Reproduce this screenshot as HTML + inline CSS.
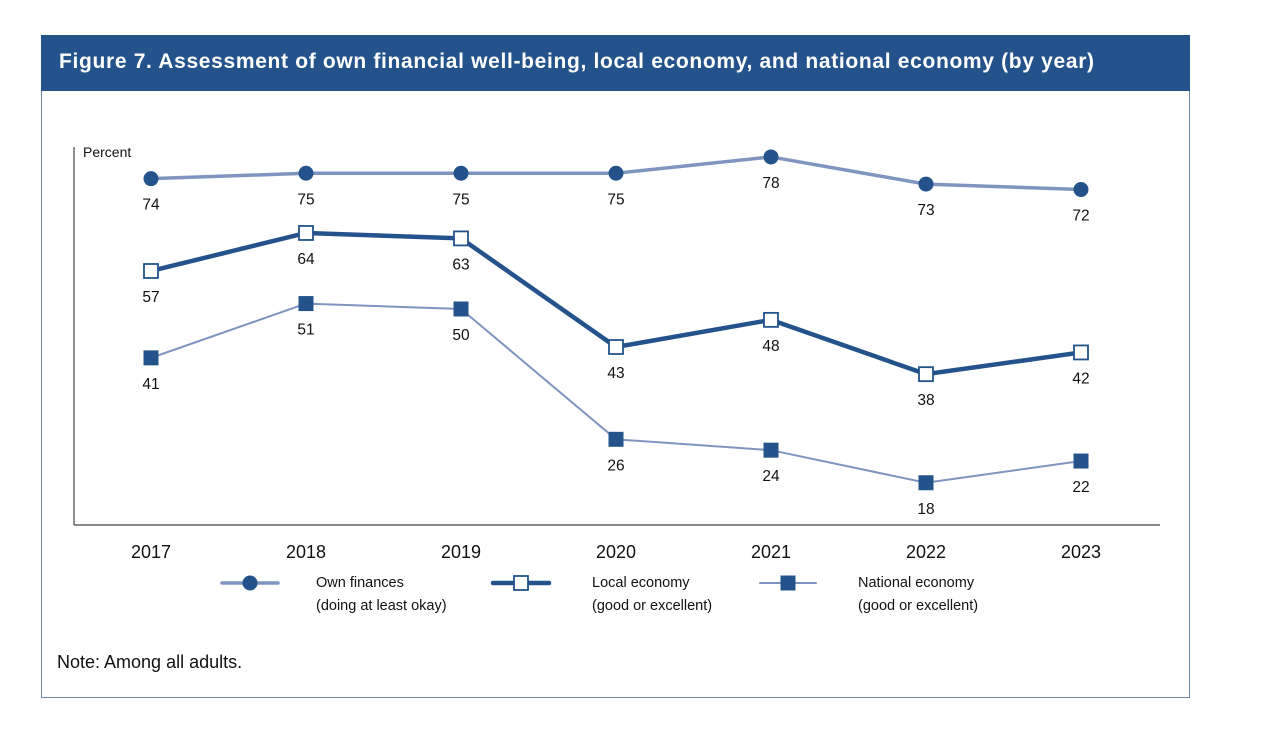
<!DOCTYPE html>
<html><head><meta charset="utf-8"><style>
html,body{margin:0;padding:0;background:#fff;}
body{width:1272px;height:736px;position:relative;overflow:hidden;font-family:"Liberation Sans",Arial,sans-serif;}
#frame{position:absolute;left:41px;top:35px;width:1147px;height:662px;border:1px solid #6d87ad;border-top:none;}
#header{position:absolute;left:41px;top:35px;width:1149px;height:56px;background:#23538a;}
#title{position:absolute;left:18px;top:15px;color:#fff;font-weight:bold;font-size:21px;letter-spacing:0.67px;white-space:nowrap;}
#note{position:absolute;left:57px;top:652px;font-size:18px;color:#111;}
svg{position:absolute;left:0;top:0;}
</style></head><body>
<div id="frame"></div>
<div id="header"><div id="title">Figure 7. Assessment of own financial well-being, local economy, and national economy (by year)</div></div>
<svg id="chart" width="1272" height="736"></svg>
<div id="note">Note: Among all adults.</div>
<script>
const years = ["2017","2018","2019","2020","2021","2022","2023"];
const ownFinances = [74,75,75,75,78,73,72];
const localEconomy = [57,64,63,43,48,38,42];
const nationalEconomy = [41,51,50,26,24,18,22];

const NS="http://www.w3.org/2000/svg";
const svg=document.getElementById('chart');
function xs(i){return 151+i*155;}
function ys(v){return 580.5-5.43*v;}
function mk(tag,attrs,parent){const e=document.createElementNS(NS,tag);for(const k in attrs)e.setAttribute(k,attrs[k]);(parent||svg).appendChild(e);return e;}
function txt(x,y,s,size,anchor){const t=mk('text',{x:x,y:y,'font-size':size,'text-anchor':anchor||'middle',fill:'#111','font-family':'"Liberation Sans",Arial,sans-serif'});t.textContent=s;return t;}

let a=mk('line',{x1:74,y1:147,x2:74,y2:525,stroke:'#444','stroke-width':1.2});


a=mk('line',{x1:74,y1:525,x2:1160,y2:525,stroke:'#444','stroke-width':1.2});


let yt=txt(83,157,'Percent',14,'start');


years.forEach((y,i)=>{const t=txt(xs(i),558,y,18);

});

const series=[
 {name:'own-finances',vals:ownFinances,color:'#7f95bf',w:3.5,marker:'circle'},
 {name:'local-economy',vals:localEconomy,color:'#23538a',w:4.5,marker:'open'},
 {name:'national-economy',vals:nationalEconomy,color:'#7f95bf',w:2,marker:'square'}
];
series.forEach(s=>{
 const pts=s.vals.map((v,i)=>xs(i)+','+ys(v)).join(' ');
 const pl=mk('polyline',{points:pts,fill:'none',stroke:s.color,'stroke-width':s.w,'stroke-linejoin':'round'});
 
 
 s.vals.forEach((v,i)=>{
  let m;
  const x=xs(i),y=ys(v);
  if(s.marker==='circle') m=mk('circle',{cx:x,cy:y,r:7.5,fill:'#23538a'});
  else if(s.marker==='open') m=mk('rect',{x:x-7,y:y-7,width:14,height:14,fill:'#fff',stroke:'#23538a','stroke-width':1.8});
  else m=mk('rect',{x:x-7.5,y:y-7.5,width:15,height:15,fill:'#23538a'});
  
  
  const l=txt(x,y+31,String(v),15.5);
  
  
 });
});

const leg=[
 {x:222,color:'#7f95bf',w:3.5,marker:'circle',l1:'Own finances',l2:'(doing at least okay)'},
 {x:493,color:'#23538a',w:4.5,marker:'open',l1:'Local economy',l2:'(good or excellent)'},
 {x:760,color:'#7f95bf',w:2,marker:'square',l1:'National economy',l2:'(good or excellent)'}
];
leg.forEach((g,k)=>{
 const grp=mk('g',{});
 
 
 mk('line',{x1:g.x,y1:583,x2:g.x+56,y2:583,stroke:g.color,'stroke-width':g.w,'stroke-linecap':'round'},grp);
 const cx=g.x+28;
 if(g.marker==='circle') mk('circle',{cx:cx,cy:583,r:7.5,fill:'#23538a'},grp);
 else if(g.marker==='open') mk('rect',{x:cx-7,y:576,width:14,height:14,fill:'#fff',stroke:'#23538a','stroke-width':1.8},grp);
 else mk('rect',{x:cx-7.5,y:575.5,width:15,height:15,fill:'#23538a'},grp);
 const tx=[316,592,858][k];
 const t1=txt(tx,587,g.l1,14.5,'start');grp.appendChild(t1);
 const t2=txt(tx,610,g.l2,14.5,'start');grp.appendChild(t2);
});
</script>
</body></html>
